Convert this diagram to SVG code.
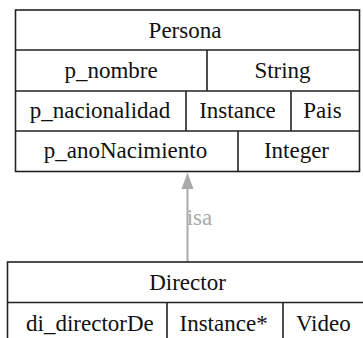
<svg xmlns="http://www.w3.org/2000/svg" width="363" height="338" viewBox="0 0 363 338">
<style>
.box{fill:#fff;stroke:#222;stroke-width:1.6}
.div{stroke:#222;stroke-width:1.6}
.t{font-size:23px;fill:#111}
.lbl{font-size:23px;fill:#aaa}
.edge{stroke:#aaa;stroke-width:2;fill:none}
</style>
<rect width="363" height="338" fill="#fff"/>
<g id="connectors" font-family="Liberation Serif">
<line class="edge" x1="187.5" y1="262" x2="187.5" y2="186"/>
<path d="M181.5,189 L187.5,172.5 L193.5,189 Z" fill="#aaa"/>
<text class="lbl" x="186.7" y="225">isa</text>
</g>
<g id="Persona" font-family="Liberation Serif">
<rect class="box" x="15.5" y="10" width="344" height="161.5"/>
<line class="div" x1="15.5" y1="50" x2="359.5" y2="50"/>
<line class="div" x1="15.5" y1="91" x2="359.5" y2="91"/>
<line class="div" x1="15.5" y1="131" x2="359.5" y2="131"/>
<line class="div" x1="207" y1="50" x2="207" y2="91"/>
<line class="div" x1="186" y1="91" x2="186" y2="131"/>
<line class="div" x1="291" y1="91" x2="291" y2="131"/>
<line class="div" x1="238" y1="131" x2="238" y2="171.5"/>
<text class="t" x="148.6" y="38">Persona</text>
<text class="t" x="64.4" y="78">p_nombre</text>
<text class="t" x="254.4" y="78">String</text>
<text class="t" x="29.8" y="118">p_nacionalidad</text>
<text class="t" x="199.2" y="118">Instance</text>
<text class="t" x="303.3" y="118">Pais</text>
<text class="t" x="43.7" y="158">p_anoNacimiento</text>
<text class="t" x="263.9" y="158">Integer</text>
</g>
<g id="Director" font-family="Liberation Serif">
<rect class="box" x="7.5" y="262" width="380" height="82"/>
<line class="div" x1="7.5" y1="302.5" x2="387.5" y2="302.5"/>
<line class="div" x1="167" y1="302.5" x2="167" y2="344"/>
<line class="div" x1="283" y1="302.5" x2="283" y2="344"/>
<text class="t" x="149.2" y="290">Director</text>
<text class="t" x="26.1" y="331">di_directorDe</text>
<text class="t" x="179.5" y="331">Instance*</text>
<text class="t" x="295.9" y="331">Video</text>
</g>
</svg>
